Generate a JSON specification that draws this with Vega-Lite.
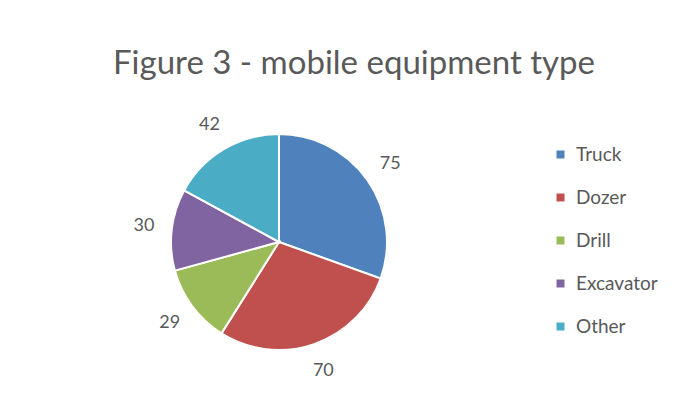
{
  "$schema": "https://vega.github.io/schema/vega-lite/v6.json",
  "width": 216,
  "height": 216,
  "autosize": "none",
  "padding": {"left": 171, "top": 134, "right": 307, "bottom": 52},
  "background": "white",
  "title": {
    "text": "Figure 3 - mobile equipment type",
    "anchor": "middle",
    "frame": "group",
    "dx": 75,
    "offset": 35,
    "font": "Lato",
    "fontSize": 33,
    "fontWeight": "normal",
    "color": "#595959"
  },
  "data": {
    "values": [
      {"type": "Truck", "count": 75, "idx": 1},
      {"type": "Dozer", "count": 70, "idx": 2},
      {"type": "Drill", "count": 29, "idx": 3},
      {"type": "Excavator", "count": 30, "idx": 4},
      {"type": "Other", "count": 42, "idx": 5}
    ]
  },
  "encoding": {
    "theta": {"field": "count", "type": "quantitative", "stack": true},
    "order": {"field": "idx", "type": "quantitative", "sort": "ascending"}
  },
  "layer": [
    {
      "mark": {"type": "arc", "outerRadius": 108, "stroke": "white", "strokeWidth": 2},
      "encoding": {
        "color": {
          "field": "type",
          "type": "nominal",
          "sort": ["Truck", "Dozer", "Drill", "Excavator", "Other"],
          "scale": {
            "domain": ["Truck", "Dozer", "Drill", "Excavator", "Other"],
            "range": ["#4F81BD", "#C0504D", "#9BBB59", "#8064A2", "#4BACC6"]
          },
          "legend": {
            "title": null,
            "orient": "none",
            "legendX": 380,
            "legendY": 11,
            "symbolType": "square",
            "symbolSize": 64,
            "symbolStrokeWidth": 0,
            "labelFont": "Lato",
            "labelFontSize": 19,
            "labelColor": "#595959",
            "rowPadding": 23,
            "labelOffset": 6
          }
        }
      }
    },
    {
      "mark": {"type": "text", "radius": 136, "font": "Lato", "fontSize": 18, "color": "#595959"},
      "encoding": {
        "text": {"field": "count", "type": "quantitative"}
      }
    }
  ],
  "config": {"view": {"stroke": null}}
}
